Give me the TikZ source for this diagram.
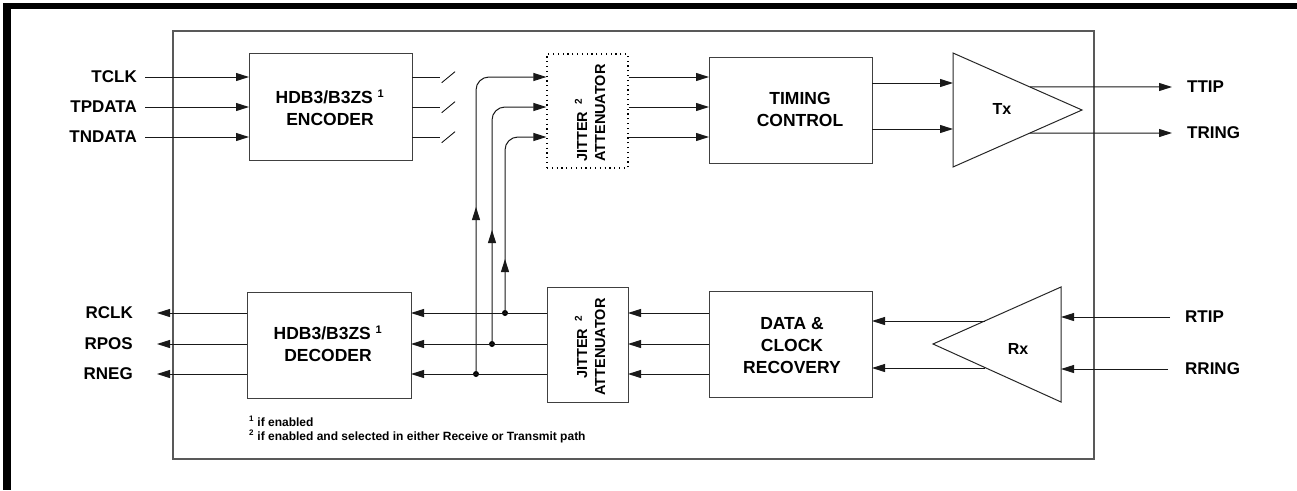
\documentclass[tikz,border=0pt]{standalone}
\usepackage{fontspec}
\setmainfont{Liberation Sans}
\usetikzlibrary{arrows.meta,calc,decorations.markings}
\begin{document}
\begin{tikzpicture}[x=1pt,y=-1pt,
  blockbox/.style={draw=black!75, line width=1pt, inner sep=0pt, outer sep=0pt},
  boxtext/.style={font=\bfseries\fontsize{17.5}{22}\selectfont, align=center, inner sep=0pt},
  jtext/.style={font=\bfseries\fontsize{14.5}{18}\selectfont, rotate=90, inner sep=0pt},
  lab/.style={font=\bfseries\fontsize{17}{21}\selectfont, inner sep=0pt},
  wire/.style={line width=1pt, draw=black!90},
  tipstyle/.tip={Triangle[length=13pt,width=8pt]},
  arr/.style={wire, -tipstyle},
  midarrow/.style={postaction={decorate}, decoration={markings, mark=at position #1 with {\arrow{tipstyle}}}},
  dot/.style={circle, fill=black, inner sep=0pt, minimum size=6pt}
]
\useasboundingbox (0,0) rectangle (1297,490);
% outer frame
\fill[black] (3,3) rectangle (1297,8.5);
\fill[black] (3,3) rectangle (10.5,490);
% inner box
\draw[draw=black!65, line width=1.2pt] (173,31) rectangle (1094,459);

% ---------- transmit path ----------
\node[blockbox, minimum width=163pt, minimum height=107pt] (enc) at (330.5,106.5) {};
\node[boxtext] (enct) at (330,107.5) {HDB3/B3ZS \textsuperscript{\fontsize{11}{11}\selectfont 1}\\ENCODER};

\node[lab, anchor=east] (tclk) at (137,77) {TCLK};
\node[lab, anchor=east] (tpdata) at (137,107) {TPDATA};
\node[lab, anchor=east] (tndata) at (137,137) {TNDATA};
\draw[arr] ([xshift=8pt]tclk.east) -- (tclk -| enc.west);
\draw[arr] ([xshift=8pt]tpdata.east) -- (tpdata -| enc.west);
\draw[arr] ([xshift=8pt]tndata.east) -- (tndata -| enc.west);

% encoder outputs with open-switch slashes
\foreach \yy in {77,107,137} {
  \draw[wire] (enc.east |- 0,\yy) -- ++(28,0);
  \draw[line width=0.8pt] (441.7,\yy+5.7) -- (455,\yy-5.3);
}

\node[draw=black, line width=1.2pt, dash pattern=on 1.2pt off 3.6pt, inner sep=0pt, minimum width=81pt, minimum height=114pt] (jat) at (587.5,111) {};
\node[jtext, align=left] (jatt) at (590,113) {JITTER\hspace{7pt}\textsuperscript{\fontsize{10}{10}\selectfont 2}\\ATTENUATOR};

\node[blockbox, minimum width=163pt, minimum height=106pt] (tim) at (790.5,110) {};
\node[boxtext] (timt) at (800,109) {TIMING\\CONTROL};

\foreach \yy in {77,107,137} {
  \draw[arr] (jat.east |- 0,\yy) -- (tim.west |- 0,\yy);
}

% Tx triangle
\coordinate (txa) at (953,53);
\coordinate (txb) at (953,167);
\coordinate (txc) at (1082,110);
\draw[draw=black!85, line width=1pt] (txa) -- (txc) -- (txb) -- cycle;
\node[font=\bfseries\fontsize{16}{16}\selectfont, inner sep=0pt] (txl) at (1002,109) {Tx};
\draw[arr] (tim.east |- 0,83) -- (txa |- 0,83);
\draw[arr] (tim.east |- 0,129) -- (txa |- 0,129);

\node[lab, anchor=west] (ttip) at (1187,87) {TTIP};
\node[lab, anchor=west] (tring) at (1187,133) {TRING};
\coordinate (ttipst) at ($(txa)!0.596!(txc)$);
\coordinate (tringst) at ($(txb)!0.596!(txc)$);
\draw[arr] (ttipst) -- ([xshift=-15pt]ttip.west);
\draw[arr] (tringst) -- ([xshift=-15pt]tring.west);

% ---------- receive path ----------
\node[blockbox, minimum width=164pt, minimum height=106pt] (dec) at (329,345) {};
\node[boxtext] (dect) at (328,344) {HDB3/B3ZS \textsuperscript{\fontsize{11}{11}\selectfont 1}\\DECODER};

\node[lab, anchor=east] (rclk) at (133,313) {RCLK};
\node[lab, anchor=east] (rpos) at (133,344) {RPOS};
\node[lab, anchor=east] (rneg) at (133,374) {RNEG};
\draw[arr] (dec.west |- rclk) -- ([xshift=24pt]rclk.east);
\draw[arr] (dec.west |- rpos) -- ([xshift=24pt]rpos.east);
\draw[arr] (dec.west |- rneg) -- ([xshift=24pt]rneg.east);

\node[blockbox, minimum width=81pt, minimum height=115pt] (jar) at (587.5,344.5) {};
\node[jtext, align=center] (jart) at (590,347) {JITTER\hspace{7pt}\textsuperscript{\fontsize{10}{10}\selectfont 2}\\ATTENUATOR};

\node[blockbox, minimum width=163pt, minimum height=106pt] (dcr) at (790.5,344) {};
\node[boxtext] (dcrt) at (792,346) {DATA \&\\CLOCK\\RECOVERY};

% junctions
\node[dot] (j1) at (505,313) {};
\node[dot] (j2) at (492,344) {};
\node[dot] (j3) at (476,374) {};

\draw[arr] (jar.west |- 0,313) -- (dec.east |- 0,313);
\draw[arr] (jar.west |- 0,344) -- (dec.east |- 0,344);
\draw[arr] (jar.west |- 0,374) -- (dec.east |- 0,374);

\draw[arr] (dcr.west |- 0,313) -- (jar.east |- 0,313);
\draw[arr] (dcr.west |- 0,344) -- (jar.east |- 0,344);
\draw[arr] (dcr.west |- 0,374) -- (jar.east |- 0,374);

% feed-back to transmit jitter attenuator
\draw[arr, rounded corners=13pt, midarrow=167pt] (j3.center) |- (jat.west |- 0,77);
\draw[arr, rounded corners=13pt, midarrow=114pt] (j2.center) |- (jat.west |- 0,107);
\draw[arr, rounded corners=13pt, midarrow=54pt] (j1.center) |- (jat.west |- 0,137);

% Rx triangle
\coordinate (rxtip) at (933,344);
\coordinate (rxtop) at (1061,287);
\coordinate (rxbot) at (1061,402);
\draw[draw=black!85, line width=1pt] (rxtip) -- (rxtop) -- (rxbot) -- cycle;
\node[font=\bfseries\fontsize{16}{16}\selectfont, inner sep=0pt] (rxl) at (1018,349) {Rx};
\coordinate (rxo1) at (985,321);
\coordinate (rxo2) at (985,368);
\draw[arr] (rxo1) -- (dcr.east |- rxo1);
\draw[arr] (rxo2) -- (dcr.east |- rxo2);

\node[lab, anchor=west] (rtip) at (1185,317) {RTIP};
\node[lab, anchor=west] (rring) at (1185,369) {RRING};
\draw[arr] ([xshift=-15pt]rtip.west) -- (rxtop |- rtip.west);
\draw[arr] ([xshift=-17pt]rring.west) -- (rxtop |- rring.west);

% footnotes
\node[anchor=base west, align=left, inner sep=0pt, font=\bfseries\fontsize{12}{14}\selectfont] (fn) at (249,440)
  {\textsuperscript{\fontsize{8}{8}\selectfont 1} if enabled\\\textsuperscript{\fontsize{8}{8}\selectfont 2} if enabled and selected in either Receive or Transmit path};
\end{tikzpicture}
\end{document}
